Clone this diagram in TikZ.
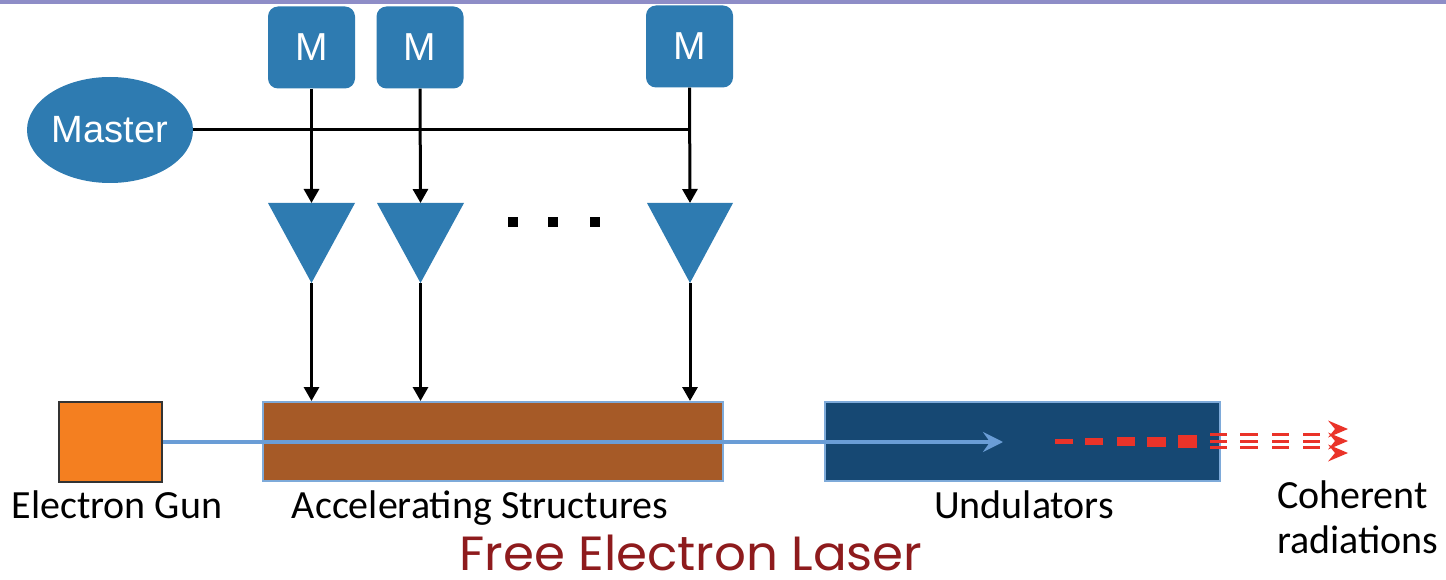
\documentclass[tikz,border=0pt]{standalone}
\usepackage{fontspec}
\setmainfont{Carlito}
\newfontfamily\helv{Liberation Sans}
\newfontfamily\geo{Poppins}
\usetikzlibrary{arrows.meta,shapes.geometric}
\definecolor{barc}{HTML}{8E8DC7}
\definecolor{mblue}{HTML}{2E7BB1}
\definecolor{gunc}{HTML}{F47F20}
\definecolor{accc}{HTML}{A65A27}
\definecolor{undc}{HTML}{164873}
\definecolor{edgeblue}{HTML}{7EAAD9}
\definecolor{beamc}{HTML}{6A9DD6}
\definecolor{radc}{HTML}{EA3329}
\definecolor{titlec}{HTML}{8E1B1D}
\tikzset{
  mbox/.style={fill=mblue, rounded corners=10pt, minimum width=87pt, minimum height=82pt, inner sep=0pt, text=white, font=\helv\fontsize{39}{40}\selectfont},
  master/.style={ellipse, fill=mblue, minimum width=166pt, minimum height=106pt, inner sep=0pt, text=white, font=\helv\fontsize{38}{40}\selectfont},
  amp/.style={fill=mblue},
  sig/.style={line width=3pt, black},
  sigarr/.style={sig, -{Triangle[length=14pt,width=15pt]}},
  beamline/.style={rectangle, minimum height=79pt, inner sep=0pt, draw=edgeblue, line width=2pt},
  lbl/.style={font=\fontsize{40}{45}\selectfont, anchor=base, inner sep=0pt},
  dot/.style={fill=black},
  rad/.style={radc, line width=3pt},
}
\begin{document}
\begin{tikzpicture}[x=1pt,y=-1pt]
\path[use as bounding box] (0,0) rectangle (1446,580);
\fill[barc] (0,0) rectangle (1446,4.5);

% modulators
\node[mbox] (m1) at (311.5,47.5) {M};
\node[mbox] (m2) at (420,47.5) {M};
\node[mbox] (m3) at (689.5,46.5) {M};
\node[master] (master) at (110,130) {Master};

% amplifier triangles
\coordinate (t1top) at (311.5,203); \coordinate (t1tip) at (311.5,283);
\coordinate (t2top) at (420.5,203); \coordinate (t2tip) at (420.5,283);
\coordinate (t3top) at (690,203);   \coordinate (t3tip) at (690,283);
\fill[amp] (268,203) -- (355,203) -- (t1tip) -- cycle;
\fill[amp] (377,203) -- (464,203) -- (t2tip) -- cycle;
\fill[amp] (647,203) -- (733,203) -- (t3tip) -- cycle;

% dots
\fill[dot] (508,217) rectangle (518,227);
\fill[dot] (548,217) rectangle (558,227);
\fill[dot] (590,217) rectangle (600,227);

% beamline elements
\node[beamline, draw=black!80, fill=gunc, minimum width=103pt, minimum height=80pt] (gun) at (110.5,442) {};
\node[beamline, fill=accc, minimum width=460pt] (acc) at (493,441.5) {};
\node[beamline, fill=undc, minimum width=395pt] (und) at (1022.5,441.5) {};

% master distribution
\coordinate (j3) at (689.5,130);
\draw[sig] (master.east) -- (j3);
\draw[sigarr] (m1.south) -- (t1top);
\draw[sigarr] (m2.south) -- (t2top);
\draw[sigarr] (m3.south) -- (t3top);
\draw[sigarr] (t1tip) -- (t1tip |- acc.north);
\draw[sigarr] (t2tip) -- (t2tip |- acc.north);
\draw[sigarr] (t3tip) -- (t3tip |- acc.north);

% electron beam
\coordinate (beamend) at (1003,442);
\draw[beamc, line width=3.4pt, -{Stealth[length=20pt,width=20pt,inset=7pt]}] (gun.east) -- (beamend);

% coherent radiation
\fill[radc] (1055,439.3) rectangle (1073,444.3);
\fill[radc] (1085,438.3) rectangle (1103,445);
\fill[radc] (1117,437.3) rectangle (1135,446);
\fill[radc] (1147,436.7) rectangle (1166,447.3);
\fill[radc] (1178,435) rectangle (1197,448.3);
\foreach \xa/\xb in {1210/1227,1240/1258,1272/1289,1303/1320}{
  \foreach \yy in {434.7,441.2,447.7}{
    \draw[rad] (\xa,\yy) -- (\xb,\yy);
  }
}
\foreach \yy in {429,441,453}{
  \fill[radc] (1328,\yy-8.5) -- (1348,\yy) -- (1328,\yy+8.5) -- (1335,\yy) -- cycle;
}

% labels
\node[lbl] (lgun) at (117,518) {Electron Gun};
\node[lbl] (lacc) at (480,518) {Accelerating Structures};
\node[lbl] (lund) at (1024,518) {Undulators};
\node[lbl, anchor=base west, align=left] (lcoh) at (1277,553) {Coherent\\radiations};
\node[anchor=base, inner sep=0pt, text=titlec, font=\geo\fontsize{48}{50}\selectfont] (title) at (691,570) {\scalebox{1.04}[1]{Free Electron Laser}};
\end{tikzpicture}
\end{document}
